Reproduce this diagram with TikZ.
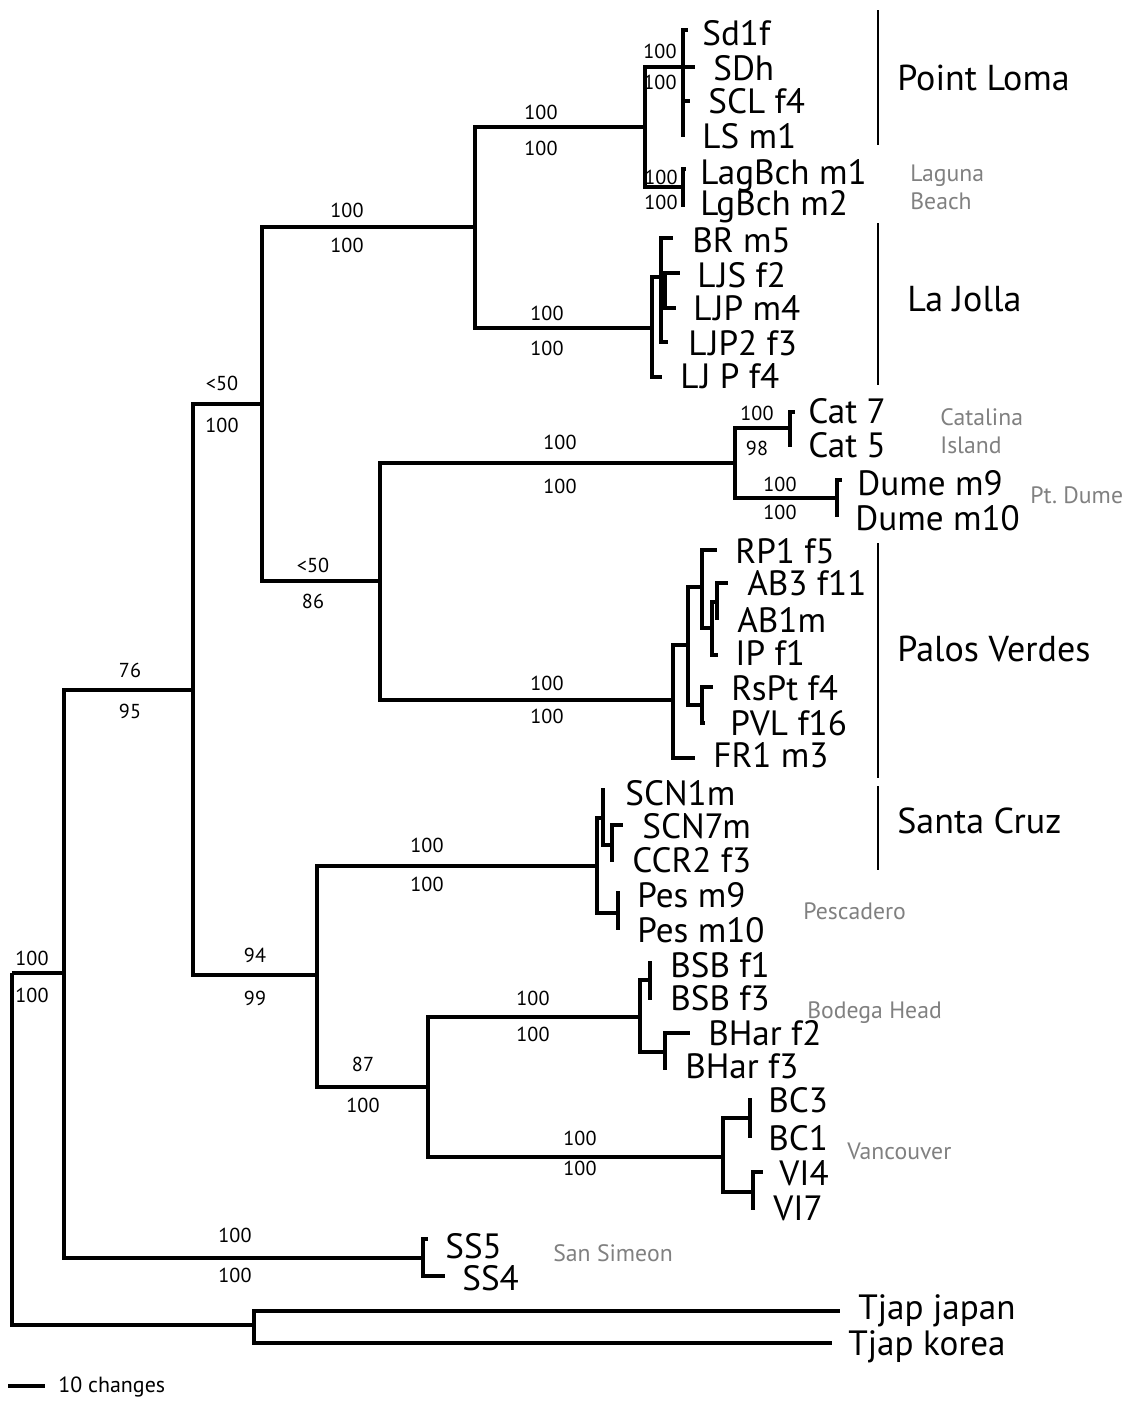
\documentclass[tikz,border=0pt]{standalone}
\usepackage{fontspec}
\setmainfont{PT Sans}
\usepackage{tikz}
\newcommand\LJtxt{L\kern1pt J}

\begin{document}
\begin{tikzpicture}[x=0.02cm,y=-0.02cm,
  branch/.style={line width=2pt},
  leaf/.style={anchor=base west,inner sep=0pt,font=\fontsize{20}{20}\selectfont},
  boot/.style={inner sep=0pt,font=\fontsize{11.5}{12}\selectfont},
  place/.style={anchor=base west,inner sep=0pt,text=black!50,font=\fontsize{13.5}{14}\selectfont},
  group/.style={anchor=base west,inner sep=0pt,font=\fontsize{20.5}{21}\selectfont}]
  \useasboundingbox (0,0) rectangle (1127,1401);

  % Internal nodes
  \foreach \n/\x/\y in {root/12/973, nA/64/973, nB/193/690, nC/262/404, nD/475/227,
      nE/645/127, nPL/683/67, nLB/683/187, nLJ/652/328, nLJ2/661/277, nLJ3/665/290,
      nF/380/581, nG/735/463, nCat/790/428, nDu/837/498, nPV/673/700, nPV2/688/645,
      nPV3/702/587, nPV4/702/705, nPV5/712/628, nPV6/717/602, nH/317/975,
      nSC/597/866, nSC2/603/818, nSC3/612/845, nPes/618/913, nI/428/1087,
      nBo/640/1017, nBSB/650/980, nBH/665/1052, nVa/723/1157, nBC/750/1118,
      nVI/753/1192, nSS/423/1258, nTj/254/1325}
    \coordinate (\n) at (\x,\y);

  % Inner branches
  \foreach \p/\c in {root/nA, root/nTj, nA/nB, nA/nSS, nB/nC, nB/nH, nC/nD, nC/nF,
      nD/nE, nD/nLJ, nE/nPL, nE/nLB, nLJ/nLJ2, nLJ2/nLJ3, nF/nG, nF/nPV, nG/nCat,
      nG/nDu, nPV/nPV2, nPV2/nPV3, nPV2/nPV4, nPV3/nPV5, nPV5/nPV6, nH/nSC, nH/nI,
      nSC/nSC2, nSC/nPes, nSC2/nSC3, nI/nBo, nI/nVa, nBo/nBSB, nBo/nBH, nVa/nBC, nVa/nVI}
    \draw[branch] (\p) |- (\c);

  % Leaves: id / parent / tip / label
  \foreach \id/\p/\tx/\ty/\lx/\ly/\txt in {
      sd1f/nPL/688/30/702/45/Sd1f, sdh/nPL/695/67/713/80/SDh,
      sclf4/nPL/690/101/708/113/SCL f4, lsm1/nPL/683/137/702/148/LS m1,
      lagbch1/nLB/686/169/700/184/LagBch m1, lgbch2/nLB/683/207/700/215/LgBch m2,
      brm5/nLJ2/673/238/692/252/BR m5, ljsf2/nLJ3/680/273/697/287/\LJtxt S f2,
      ljpm4/nLJ3/676/308/693/320/\LJtxt P m4, ljp2f3/nLJ2/668/342/688/355/\LJtxt P2 f3,
      ljpf4/nLJ/662/377/680/388/\LJtxt{} P f4,
      cat7/nCat/795/412/808/423/Cat 7, cat5/nCat/790/447/808/457/Cat 5,
      dume9/nDu/842/480/857/495/Dume m9, dume10/nDu/837/517/855/530/Dume m10,
      rp1/nPV3/717/550/735/563/RP1 f5, ab3/nPV6/728/583/747/595/AB3 f11,
      ab1m/nPV6/717/620/737/632/AB1m, ipf1/nPV5/718/655/735/665/IP f1,
      rspt/nPV4/713/687/731/700/RsPt f4, pvl/nPV4/705/723/730/735/PVL f16,
      fr1/nPV/695/758/713/767/FR1 m3,
      scn1m/nSC2/605/790/625/805/SCN1m, scn7m/nSC3/623/825/642/838/SCN7m,
      ccr2/nSC3/612/862/632/872/CCR2 f3, pes9/nPes/620/893/637/907/Pes m9,
      pes10/nPes/618/930/637/942/Pes m10,
      bsb1/nBSB/652/963/670/977/BSB f1, bsb3/nBSB/650/1000/670/1010/BSB f3,
      bhar2/nBH/690/1033/708/1045/BHar f2, bhar3/nBH/665/1070/685/1078/BHar f3,
      bc3/nBC/752/1100/768/1112/BC3, bc1/nBC/750/1138/768/1150/BC1,
      vi4/nVI/763/1172/779/1185/VI4, vi7/nVI/753/1210/773/1220/VI7,
      ss5/nSS/428/1239/445/1258/SS5, ss4/nSS/445/1276/462/1290/SS4,
      tjjp/nTj/840/1311/858/1319/Tjap japan, tjkr/nTj/832/1343/848/1355/Tjap korea}{
    \coordinate (t\id) at (\tx,\ty);
    \draw[branch] (\p) |- (t\id);
    \node[leaf] (\id) at (\lx,\ly) {\txt};
  }

  % Support values above / below the branches
  \foreach \x/\ya/\yb/\a/\b [count=\i] in {32/958/995/100/100, 130/670/711/76/95,
      235/1235/1275/100/100, 222/383/425/\textless50/100, 255/955/998/94/99,
      347/210/245/100/100, 313/565/601/\textless50/86, 541/112/148/100/100,
      547/313/348/100/100, 660/51/82/100/100, 661/177/202/100/100,
      757/413/448/100/98, 780/484/512/100/100, 560/442/486/100/100,
      547/683/716/100/100, 427/845/884/100/100, 363/1064/1105/87/100,
      533/998/1034/100/100, 580/1138/1168/100/100}{
    \node[boot] (up\i) at (\x,\ya) {\a};
    \node[boot] (lo\i) at (\x,\yb) {\b};
  }

  % Populations
  \draw[line width=1.2pt] (878,10) -- (878,145);
  \draw[line width=1.2pt] (878,223) -- (878,385);
  \draw[line width=1.2pt] (878,543) -- (878,778);
  \draw[line width=1.2pt] (878,786) -- (878,870);
  \node[group] (ptloma) at (897,90) {Point Loma};
  \node[group] (lajolla) at (907,311) {La Jolla};
  \node[group] (palos) at (897,661) {Palos Verdes};
  \node[group] (cruz) at (897,833) {Santa Cruz};

  \node[place] (laguna) at (910,181) {Laguna};
  \node[place] (beach) at (910,209) {Beach};
  \node[place] (catalina) at (940,425) {Catalina};
  \node[place] (island) at (940,453) {Island};
  \node[place] (dume) at (1030,503) {Pt.~Dume};
  \node[place] (pescadero) at (803,919) {Pescadero};
  \node[place] (bodega) at (807,1018) {Bodega Head};
  \node[place] (vancouver) at (847,1159) {Vancouver};
  \node[place] (simeon) at (553,1261) {San Simeon};

  % Scale
  \draw[branch] (8,1386) -- (45,1386);
  \node[boot,anchor=base west,font=\fontsize{12.5}{13}\selectfont] (scale) at (58,1392) {10 changes};
\end{tikzpicture}
\end{document}
